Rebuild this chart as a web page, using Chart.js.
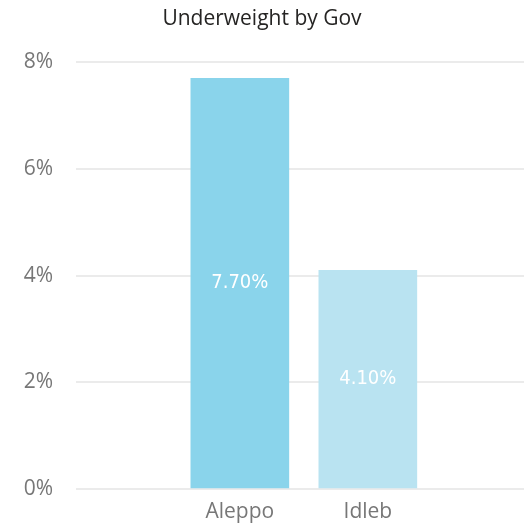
<!DOCTYPE html>
<html lang="en">
    <head>
        <meta charset="utf-8">
        <title>Underweight by Gov</title>
        <script src="https://cdn.jsdelivr.net/npm/chart.js@4"></script>
        <style>
        body {margin: 0; background: #ffffff;}
        .wrap {width: 524px; height: 526px; position: relative;}
        </style>
    </head>
    <body>
        <div class="wrap">
            <canvas id="chartGov"></canvas>
        </div>

        <script>
        // donnees
        const govs = ['Aleppo', 'Idleb'];
        const underweight = [7.7, 4.1];
        const barColors = ['#8AD4EB', '#B9E3F1'];
        const yTicks = [0, 2, 4, 6, 8];

        // etiquettes blanches au milieu des barres
        const midLabels = {
            id: 'midLabels',
            afterDatasetsDraw(chart) {
                const ctx = chart.ctx;
                const meta = chart.getDatasetMeta(0);
                ctx.save();
                ctx.fillStyle = '#ffffff';
                ctx.font = '20px "DejaVu Sans Condensed", "Noto Sans", sans-serif';
                ctx.textAlign = 'center';
                ctx.textBaseline = 'middle';
                meta.data.forEach(function (bar, i) {
                    const y = (bar.y + bar.base) / 2;
                    ctx.fillText(underweight[i].toFixed(2) + '%', bar.x, y);
                });
                ctx.restore();
            }
        };

        new Chart(document.getElementById('chartGov'), {
            type: 'bar',
            data: {
                labels: govs,
                datasets: [{
                    label: 'Underweight',
                    data: underweight,
                    backgroundColor: barColors,
                    borderWidth: 0,
                    barThickness: 98
                }]
            },
            options: {
                responsive: true,
                maintainAspectRatio: false,
                animation: false,
                layout: {padding: 0},
                plugins: {
                    legend: {display: false},
                    tooltip: {enabled: false},
                    title: {
                        display: true,
                        text: 'Underweight by Gov',
                        color: '#252423',
                        font: {family: '"Open Sans", "Noto Sans", sans-serif', size: 21, weight: 'normal'},
                        padding: {top: 6, bottom: 31}
                    }
                },
                scales: {
                    x: {
                        grid: {display: false},
                        border: {display: false},
                        ticks: {
                            color: '#777777',
                            padding: 2,
                            font: {family: '"Open Sans", "Noto Sans", sans-serif', size: 21}
                        },
                        // place les deux barres vers le centre comme dans Power BI
                        afterBuildTicks: function (scale) {
                            scale._startValue = -1.28;
                            scale._valueRange = 3.5;
                        },
                        afterFit: function (scale) {
                            scale.height = 37;
                        }
                    },
                    y: {
                        min: 0,
                        max: 8,
                        border: {display: false},
                        grid: {color: '#ebebeb', lineWidth: 2, drawTicks: false},
                        afterBuildTicks: function (scale) {
                            scale.ticks = yTicks.map(v => ({value: v}));
                        },
                        afterFit: function (scale) {
                            scale.width = 76;
                        },
                        ticks: {
                            color: '#777777',
                            padding: 23,
                            font: {family: '"Open Sans", "Noto Sans", sans-serif', size: 21},
                            callback: v => v + '%'
                        }
                    }
                }
            },
            plugins: [midLabels]
        });
        </script>
    </body>
</html>
